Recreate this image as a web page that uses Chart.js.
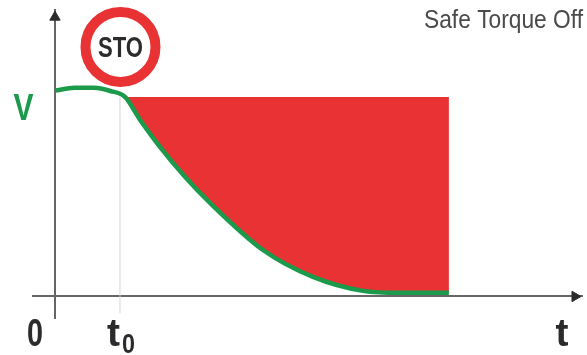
<!DOCTYPE html>
<html>
<head>
<meta charset="utf-8">
<script src="https://cdn.jsdelivr.net/npm/chart.js@4/dist/chart.umd.min.js"></script>
<style>
  html, body { margin: 0; padding: 0; background: #fff; }
  #wrap { position: relative; width: 587px; height: 355px; }
</style>
</head>
<body>
<div id="wrap"><canvas id="stoChart" width="587" height="355"></canvas></div>
<script>
// time is in units of t0, speed is in units of V
const holdTimes = [0, 0.3, 0.6, 0.85];
const holdValues = [1.032, 1.046, 1.046, 1.03];
const fallTimes = [1.077, 1.3, 1.615, 2.0, 2.385, 3.2, 3.969, 4.738, 5.31, 6.06];
const fallValues = [1, 0.89, 0.75, 0.6, 0.469, 0.233, 0.098, 0.028, 0.018, 0.018];
const holdLevel = fallTimes.map(() => 1);
const xLabels = ['0', 't', 't'];
const xLabelTimes = [-0.308, 0.9, 7.8];
const yLabel = 'V';
const title = 'Safe Torque Off';
const signLabel = 'STO';

const GREEN = '#1a9a4a';
const RED = '#e83234';
const AXIS = '#666666';
const DARK = '#2b2b2d';
const FONT = '"Liberation Sans", sans-serif';

const zip = (xs, ys) => xs.map((x, i) => ({ x: x, y: ys[i] }));

// texts that are not plain ticks: labels under the axis, V, title and the sign text
const labelsPlugin = {
    id: 'labels',
    afterDraw(chart) {
        const { ctx, scales: { x, y } } = chart;
        ctx.save();
        ctx.textAlign = 'center';
        ctx.textBaseline = 'alphabetic';
        ctx.fillStyle = DARK;
        ctx.font = 'bold 39px ' + FONT;
        xLabels.forEach((label, i) => {
            ctx.fillText(label, x.getPixelForValue(xLabelTimes[i]), 346, i === 0 ? 16 : 13);
        });
        ctx.font = 'bold 28px ' + FONT;
        ctx.fillText('0', x.getPixelForValue(1.13), 353, 13);

        ctx.fillStyle = GREEN;
        ctx.font = 'bold 37px ' + FONT;
        ctx.fillText(yLabel, 23.5, y.getPixelForValue(1) + 23, 20);

        ctx.fillStyle = DARK;
        ctx.font = 'bold 29px ' + FONT;
        ctx.fillText(signLabel, x.getPixelForValue(1.008), 57, 45);

        ctx.fillStyle = '#4a4a4a';
        ctx.textAlign = 'left';
        ctx.font = '25px ' + FONT;
        ctx.fillText(title, 424, 28, 159);
        ctx.restore();
    }
};

new Chart(document.getElementById('stoChart'), {
    type: 'scatter',
    data: {
        datasets: [
            {
                label: 'STO sign',
                data: [{ x: 1.008, y: 1.251 }],
                pointRadius: 35,
                pointBorderWidth: 10,
                pointBackgroundColor: '#fff',
                pointBorderColor: RED,
                clip: false,
                order: 1
            },
            {
                label: 'Speed',
                data: zip(holdTimes, holdValues).concat(zip(fallTimes, fallValues)),
                showLine: true,
                borderColor: GREEN,
                borderWidth: 4.5,
                pointRadius: 0,
                cubicInterpolationMode: 'monotone',
                order: 2
            },
            {
                label: 'Fall',
                data: zip(fallTimes, fallValues),
                showLine: true,
                borderWidth: 0,
                pointRadius: 0,
                cubicInterpolationMode: 'monotone',
                order: 3
            },
            {
                label: 'Stopping area',
                data: zip(fallTimes, holdLevel),
                showLine: true,
                borderWidth: 0,
                pointRadius: 0,
                fill: { target: 2 },
                backgroundColor: RED,
                order: 4
            },
            {
                label: 't0 line',
                data: [{ x: 1, y: -0.085 }, { x: 1, y: 1 }],
                showLine: true,
                borderColor: '#d4d4d4',
                borderWidth: 1,
                pointRadius: 0,
                order: 5
            },
            {
                label: 'x arrow',
                data: [{ x: 8.0, y: 0 }],
                pointStyle: 'triangle',
                rotation: 90,
                pointRadius: 6,
                pointBackgroundColor: DARK,
                pointBorderColor: DARK,
                clip: false
            },
            {
                label: 'y arrow',
                data: [{ x: 0, y: 1.4 }],
                pointStyle: 'triangle',
                pointRadius: 6,
                pointBackgroundColor: DARK,
                pointBorderColor: DARK,
                clip: false
            }
        ]
    },
    options: {
        responsive: false,
        animation: false,
        layout: { autoPadding: false, padding: { left: 33, right: 5, top: 10, bottom: 37 } },
        plugins: { legend: { display: false }, tooltip: { enabled: false } },
        scales: {
            x: {
                type: 'linear',
                min: -0.338,
                max: 8.108,
                position: { y: 0 },
                grid: { display: false },
                border: { color: AXIS, width: 2 },
                ticks: { display: false }
            },
            y: {
                type: 'linear',
                min: -0.108,
                max: 1.436,
                position: { x: 0 },
                grid: { display: false },
                border: { color: AXIS, width: 2 },
                ticks: { display: false }
            }
        }
    },
    plugins: [labelsPlugin]
});
</script>
</body>
</html>
